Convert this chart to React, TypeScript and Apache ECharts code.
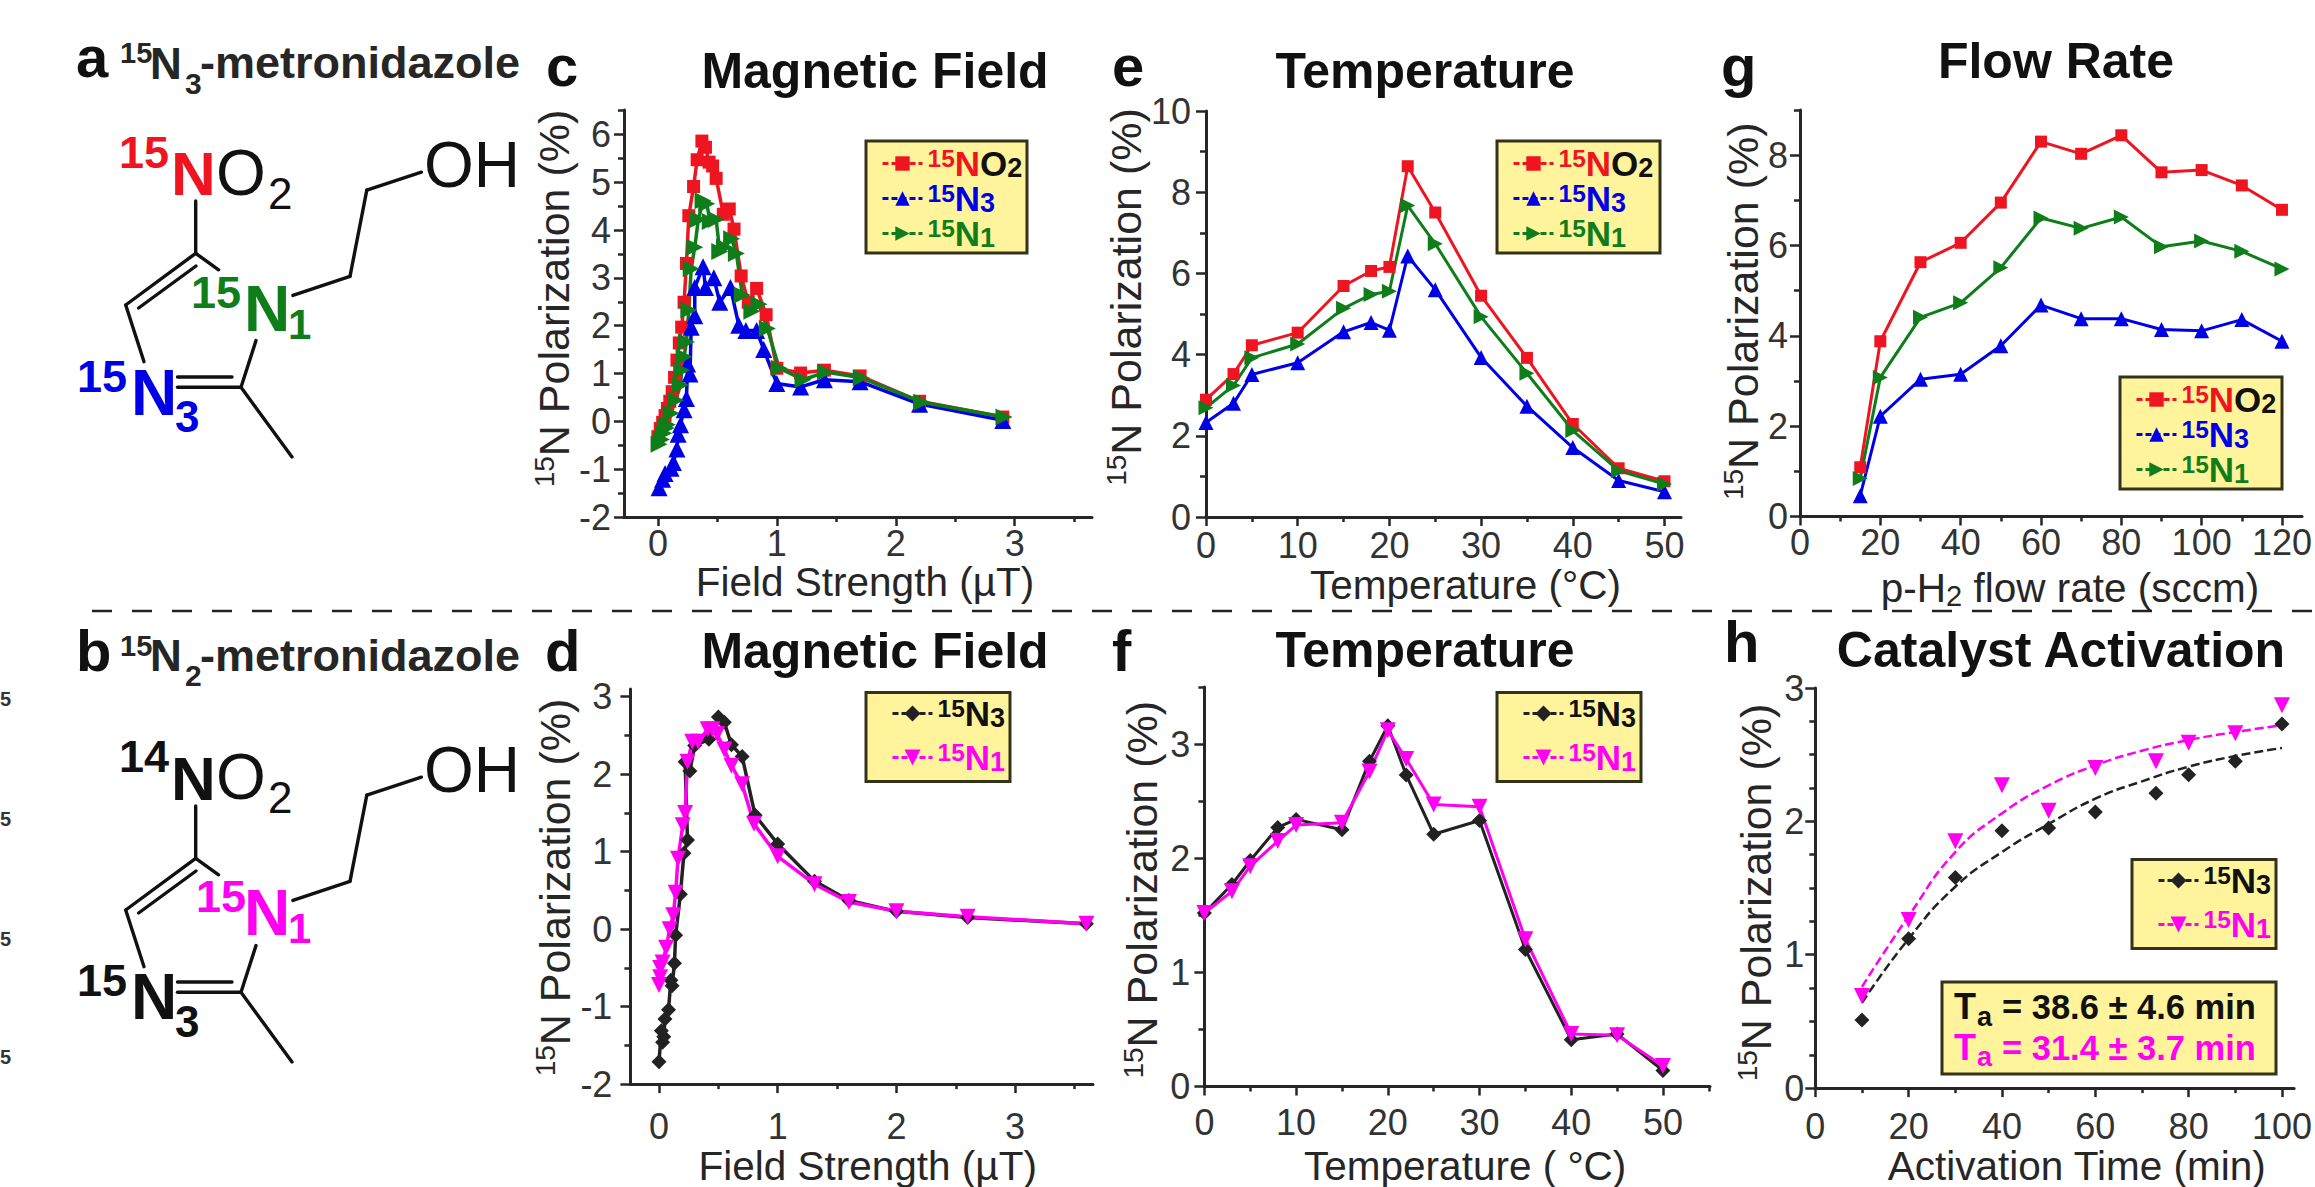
import React, { useEffect, useRef } from "react";
import * as echarts from "echarts";

const FONT = '"Liberation Sans", Arial, sans-serif';
const RED = "#ee1520", BLUE = "#0000e6", GREEN = "#0e7d1a", BLACK = "#222222", MAG = "#ff00f0";
const PALE = "#fff49c", EDGE = "#33331c", DARK = "#262626";

// Panel c
const cNo2X = [0,.02,.04,.06,.08,.1,.12,.14,.16,.18,.2,.22,.24,.26,.3,.33,.37,.4,.43,.46,.49,.55,.6,.64,.7,.76,.83,.91,1,1.2,1.4,1.7,2.2,2.9];
const cNo2Y = [-.32,-.15,-.02,.12,.27,.42,.62,.92,1.28,1.64,1.97,2.49,3.3,4.3,4.91,5.47,5.86,5.73,5.42,5.34,5.08,4.33,4.44,4.02,3.04,2.49,2.78,2.23,1.11,1.01,1.07,.95,.42,.09];
const cN3X = [.01,.04,.06,.11,.13,.16,.17,.19,.22,.24,.25,.27,.28,.31,.31,.38,.4,.47,.52,.61,.68,.74,.83,.89,1,1.2,1.4,1.7,2.2,2.9];
const cN3Y = [-1.39,-1.21,-1.09,-.98,-.86,-.58,-.27,-.07,.24,.48,1.2,.99,1.97,2.21,2.8,3.23,2.8,3,2.49,2.8,2.01,1.9,1.9,1.5,.79,.72,.87,.83,.36,.02];
const cN1X = [.01,.03,.05,.07,.08,.11,.15,.19,.2,.22,.24,.26,.28,.31,.34,.38,.41,.44,.49,.52,.56,.62,.66,.71,.79,.85,.92,1.02,1.22,1.41,1.71,2.22,2.91];
const cN1Y = [-.48,-.38,-.25,-.14,-.07,.17,.44,.76,1.07,1.35,1.66,2.33,3.19,3.64,4.22,4.61,4.55,4.18,4.22,3.55,3.64,3.82,3.51,2.64,2.3,2.45,1.94,1.11,.87,1.03,.91,.4,.09];

// Panel e
const eX = [0,3,5,10,15,18,20,22,25,30,35,40,45,50];
const eNo2 = [2.89,3.52,4.23,4.54,5.69,6.06,6.16,8.64,7.5,5.45,3.92,2.29,1.2,.88];
const eN3 = [2.33,2.8,3.51,3.8,4.56,4.79,4.6,6.43,5.6,3.93,2.73,1.71,.9,.62];
const eN1 = [2.69,3.24,3.92,4.26,5.14,5.48,5.56,7.67,6.73,4.93,3.54,2.13,1.14,.81];

// Panel g
const gX = [15,20,30,40,50,60,70,80,90,100,110,120];
const gNo2 = [1.09,3.88,5.63,6.06,6.95,8.3,8.03,8.44,7.62,7.67,7.33,6.79];
const gN3 = [.46,2.22,3.04,3.15,3.78,4.68,4.38,4.38,4.14,4.11,4.36,3.88];
const gN1 = [.84,3.08,4.41,4.73,5.51,6.61,6.38,6.63,5.97,6.1,5.87,5.48];

// Panel d
const dN3X = [0,.02,.03,.04,.05,.08,.1,.11,.13,.14,.18,.21,.24,.22,.26,.3,.42,.5,.55,.61,.7,.81,1,1.31,1.6,2,2.6,3.6];
const dN3Y = [-1.71,-1.31,-1.46,-1.39,-1.16,-1.04,-.66,-.73,-.44,-.08,.45,.98,1.15,2.16,2.04,2.37,2.45,2.74,2.67,2.38,2.23,1.47,1.1,.62,.37,.23,.15,.07];
const dN1X = [0,.01,.01,.03,.06,.09,.12,.14,.16,.2,.22,.24,.28,.33,.41,.45,.49,.55,.61,.7,.8,1,1.31,1.6,2,2.6,3.6];
const dN1Y = [-.72,-.62,-.5,-.43,-.24,0,.18,.47,.91,1.34,1.5,2.16,2.42,2.42,2.58,2.58,2.52,2.32,2.11,1.87,1.36,.94,.58,.35,.23,.16,.07];

// Panel f
const fX = [0,3,5,8,10,15,18,20,22,25,30,35,40,45,50];
const fN3 = [1.52,1.77,1.98,2.27,2.34,2.25,2.85,3.16,2.73,2.21,2.33,1.2,.41,.46,.14];
const fN1 = [1.52,1.71,1.93,2.15,2.29,2.31,2.76,3.12,2.87,2.47,2.45,1.29,.46,.45,.18];

// Panel h
const hX = [10,20,30,40,50,60,73,80,90,100];
const hN3 = [.51,1.12,1.58,1.93,1.95,2.07,2.21,2.35,2.45,2.73];
const hN1 = [.69,1.26,1.85,2.27,2.08,2.4,2.45,2.59,2.66,2.87];
const hFitX = [10,20,30,40,50,60,70,80,90,100];
const hFitN3 = [.64,1.12,1.51,1.77,1.98,2.17,2.3,2.41,2.49,2.55];
const hFitN1 = [.76,1.29,1.77,2.06,2.27,2.42,2.53,2.61,2.67,2.72];

// Tick values
const fieldMajorX = [0,1,2,3];
const fieldMinorX = [.5,1.5,2.5,3.5];
const tempMajorX = [0,10,20,30,40,50];
const tempMinorX = [5,15,25,35,45];
const tempMinorXf = [5,15,25,35,45,55];
const flowMajorX = [0,20,40,60,80,100,120];
const flowMinorX = [10,30,50,70,90,110];
const timeMajorX = [0,20,40,60,80,100];
const timeMinorX = [10,30,50,70,90];
const cMajorY = [-2,-1,0,1,2,3,4,5,6];
const cMinorY = [-1.5,-.5,.5,1.5,2.5,3.5,4.5,5.5,6.5];
const eMajorY = [0,2,4,6,8,10];
const eMinorY = [1,3,5,7,9];
const gMajorY = [0,2,4,6,8];
const gMinorY = [1,3,5,7,9];
const dMajorY = [-2,-1,0,1,2,3];
const dMinorY = [-1.5,-.5,.5,1.5,2.5];
const fMajorY = [0,1,2,3];
const fMinorY = [.5,1.5,2.5,3.5];
const hMajorY = [0,1,2,3];
const hMinorY = [.25,.5,.75,1.25,1.5,1.75,2.25,2.5,2.75];

const yNameText = "{s|15}{n|N Polarization (%)}";
const nameRich = {
  s: { fontSize: 28, fontFamily: FONT, color: DARK, verticalAlign: "top", lineHeight: 46 },
  n: { fontSize: 43, fontFamily: FONT, color: DARK, lineHeight: 46 },
  x: { fontSize: 40.5, fontFamily: FONT, color: DARK, lineHeight: 46 },
  u: { fontSize: 29, fontFamily: FONT, color: DARK, verticalAlign: "bottom", lineHeight: 46 },
};

const zip = (xs: number[], ys: number[]) => xs.map((x, i) => [x, ys[i]]);

const panels = [
  { key: "c", left: 624, top: 110, right: 1092, bottom: 517, xMin: -.285, xMax: 3.65, yMin: -2, yMax: 6.51,
    xMaj: fieldMajorX, xMin2: fieldMinorX, yMaj: cMajorY, yMin2: cMinorY, xName: "{x|Field Strength (µT)}",
    xShift: 7, xGap: 42, yGap: 44, yShift: 15, xMargin: 8, yMargin: 13, title: "Magnetic Field", tx: 875, ty: 46, lw: 3.5 },
  { key: "e", left: 1206, top: 111, right: 1681, bottom: 517, xMin: 0, xMax: 51.8, yMin: 0, yMax: 10,
    xMaj: tempMajorX, xMin2: tempMinorX, yMaj: eMajorY, yMin2: eMinorY, xName: "{x|Temperature (°C)}",
    xShift: 22, xGap: 45, yGap: 38, yShift: 17, xMargin: 10, yMargin: 15, title: "Temperature", tx: 1425, ty: 46, lw: 3 },
  { key: "g", left: 1800, top: 110, right: 2304, bottom: 516.5, xMin: 0, xMax: 125, yMin: 0, yMax: 9,
    xMaj: flowMajorX, xMin2: flowMinorX, yMaj: gMajorY, yMin2: gMinorY, xName: "{x|p-H}{u|2}{x| flow rate (sccm)}",
    xShift: 19, xGap: 48, yGap: 30, yShift: 2, xMargin: 8, yMargin: 12, title: "Flow Rate", tx: 2056, ty: 36, lw: 3 },
  { key: "d", left: 630.4, top: 689, right: 1093, bottom: 1095.3, xMin: -.241, xMax: 3.656, yMin: -2, yMax: 3.1,
    xMaj: fieldMajorX, xMin2: fieldMinorX, yMaj: dMajorY, yMin2: dMinorY, xName: "{x|Field Strength (µT)}",
    xShift: 6, xGap: 54, yGap: 46, yShift: -1, xMargin: 24, yMargin: 18, title: "Magnetic Field", tx: 875, ty: 626, lw: 3.5 },
  { key: "f", left: 1204.4, top: 687, right: 1710, bottom: 1093.4, xMin: 0, xMax: 55.13, yMin: 0, yMax: 3.5,
    xMaj: tempMajorX, xMin2: tempMinorXf, yMaj: fMajorY, yMin2: fMinorY, xName: "{x|Temperature ( °C)}",
    xShift: 8, xGap: 56, yGap: 39, yShift: -3, xMargin: 18, yMargin: 14, title: "Temperature", tx: 1425, ty: 625, lw: 3 },
  { key: "h", left: 1815.3, top: 688, right: 2308.6, bottom: 1095, xMin: 0, xMax: 102.6, yMin: 0, yMax: 3,
    xMaj: timeMajorX, xMin2: timeMinorX, yMaj: hMajorY, yMin2: hMinorY, xName: "{x|Activation Time (min)}",
    xShift: 22, xGap: 52, yGap: 36, yShift: -4.5, xMargin: 20, yMargin: 11, title: "Catalyst Activation", tx: 2061, ty: 625, lw: 3 },
];

const no2 = (name: string, xs: number[], ys: number[], size = 12) => ({ name, data: zip(xs, ys), color: RED, symbol: "rect", size, rotate: 0 });
const n3 = (name: string, xs: number[], ys: number[], size = 15) => ({ name, data: zip(xs, ys), color: BLUE, symbol: "triangle", size, rotate: 0 });
const n1 = (name: string, xs: number[], ys: number[], size = 15) => ({ name, data: zip(xs, ys), color: GREEN, symbol: "triangle", size, rotate: -90 });
const bN3 = (name: string, xs: number[], ys: number[], hide = false) => ({ name, data: zip(xs, ys), color: BLACK, symbol: "diamond", size: 15, rotate: 0, hide });
const mN1 = (name: string, xs: number[], ys: number[], hide = false) => ({ name, data: zip(xs, ys), color: MAG, symbol: "triangle", size: 16, rotate: 180, hide });

const seriesByPanel: any[][] = [
  [no2("c-15NO2", cNo2X, cNo2Y, 13), n3("c-15N3", cN3X, cN3Y, 17), n1("c-15N1", cN1X, cN1Y, 17)],
  [no2("e-15NO2", eX, eNo2), n3("e-15N3", eX, eN3), n1("e-15N1", eX, eN1)],
  [no2("g-15NO2", gX, gNo2), n3("g-15N3", gX, gN3), n1("g-15N1", gX, gN1)],
  [bN3("d-15N3", dN3X, dN3Y), mN1("d-15N1", dN1X, dN1Y)],
  [bN3("f-15N3", fX, fN3), mN1("f-15N1", fX, fN1)],
  [bN3("h-15N3", hX, hN3, true), mN1("h-15N1", hX, hN1, true)],
];

const legendBoxes = [
  { x: 866, y: 141, w: 161, h: 112, lx: 881, ly: 146, gap: 0, ih: 18 },
  { x: 1497, y: 141, w: 163, h: 112, lx: 1512, ly: 146, gap: 0, ih: 18 },
  { x: 2120, y: 377, w: 162, h: 112, lx: 2135, ly: 382, gap: 0, ih: 18 },
  { x: 866, y: 692.5, w: 144, h: 89, lx: 891, ly: 696, gap: 9, ih: 20 },
  { x: 1497, y: 692.5, w: 144, h: 89, lx: 1522, ly: 696, gap: 9, ih: 20 },
  { x: 2132, y: 859.5, w: 144, h: 89, lx: 2157, ly: 863, gap: 9, ih: 20 },
];

const tok = (color: string) => ({
  s: { fontSize: 24.5, fontWeight: "bold", fontFamily: FONT, color, verticalAlign: "top", lineHeight: 35 },
  n: { fontSize: 35, fontWeight: "bold", fontFamily: FONT, color, lineHeight: 35 },
  u: { fontSize: 27, fontWeight: "bold", fontFamily: FONT, color, verticalAlign: "bottom", lineHeight: 35 },
});
const palette: any = { r: RED, k: "#111111", b: BLUE, g: GREEN, m: MAG };
const legendRich: any = {};
Object.keys(palette).forEach(c => {
  const t = tok(palette[c]);
  legendRich[c + "s"] = t.s;
  legendRich[c + "n"] = t.n;
  legendRich[c + "u"] = t.u;
});

const legendLabel = (name: string) => {
  const dark = /^[dfh]-/.test(name);
  if (name.endsWith("15NO2")) return "{rs|15}{rn|N}{kn|O}{ku|2}";
  if (name.endsWith("15N3")) return dark ? "{ks|15}{kn|N}{ku|3}" : "{bs|15}{bn|N}{bu|3}";
  return dark ? "{ms|15}{mn|N}{mu|1}" : "{gs|15}{gn|N}{gu|1}";
};

// Molecule drawing
const bonds = [
  [195.7, 201, 195.7, 253.3], [195.7, 253.3, 125.7, 305], [196, 266, 138.6, 308], [195.7, 253.3, 218.6, 269.8],
  [125.7, 305, 144, 361.7], [177.5, 387.3, 241, 387.3], [177.5, 377, 232, 377], [241, 387.3, 256, 340.6],
  [241, 387.3, 292, 457], [292.9, 295.4, 350, 276.3], [350, 276.3, 366.8, 190.2], [366.8, 190.2, 421.4, 172.2],
];
const stray5Y = [699, 819, 939, 1057];

const txt = (x: number, base: number, text: string, size: number, weight: string, fill: string, align = "left") => ({
  type: "text", x, y: base - 0.3465 * size, silent: true,
  style: { text, fontFamily: FONT, fontSize: size, fontWeight: weight, fill, align, verticalAlign: "middle" },
});

function molecule(dy: number, tdy: number, isB: boolean): any[] {
  const out: any[] = bonds.map(b => ({
    type: "line", silent: true, shape: { x1: b[0], y1: b[1] + dy, x2: b[2], y2: b[3] + dy },
    style: { stroke: "#111", lineWidth: 3.4, lineCap: "round" },
  }));
  const k = "#111";
  out.push(txt(119, 168 + tdy, isB ? "14" : "15", 45, "bold", isB ? k : RED));
  out.push(txt(171, 195 + tdy, "N", 62, "bold", isB ? k : RED));
  out.push(txt(216, 195 + tdy, "O", 64, "normal", k));
  out.push(txt(268, 208.6 + tdy, "2", 44, "normal", k));
  out.push(txt(424, 187.5 + tdy, "OH", 64, "normal", k));
  const c1 = isB ? MAG : GREEN;
  const c3 = isB ? k : BLUE;
  out.push(txt(isB ? 196 : 191, 308 + tdy, "15", 45, "bold", c1));
  out.push(txt(244, 331 + tdy, "N", 64, "bold", c1));
  out.push(txt(288, 338.7 + tdy, "1", 42, "bold", c1));
  out.push(txt(77, 392 + tdy, "15", 45, "bold", c3));
  out.push(txt(131, 415 + tdy, "N", 64, "bold", c3));
  out.push(txt(175, 432 + tdy, "3", 44, "bold", c3));
  return out;
}

const headings: any[] = [
  txt(76, 76.5, "a", 58, "bold", "#111"),
  txt(120, 63, "15", 29, "bold", DARK),
  txt(150, 78.5, "N", 44, "bold", DARK),
  txt(185, 94, "3", 30, "bold", DARK),
  txt(200, 78.5, "-metronidazole", 45, "bold", DARK),
  txt(76, 671, "b", 58, "bold", "#111"),
  txt(120, 656, "15", 29, "bold", DARK),
  txt(150, 671, "N", 44, "bold", DARK),
  txt(185, 686, "2", 30, "bold", DARK),
  txt(200, 671, "-metronidazole", 45, "bold", DARK),
  txt(546, 86, "c", 58, "bold", "#111"),
  txt(1112, 86, "e", 58, "bold", "#111"),
  txt(1721, 86, "g", 58, "bold", "#111"),
  txt(545, 671, "d", 58, "bold", "#111"),
  txt(1112, 671, "f", 58, "bold", "#111"),
  txt(1724, 662, "h", 58, "bold", "#111"),
];

function buildOption() {
  const grid: any[] = [], xAxis: any[] = [], yAxis: any[] = [], title: any[] = [], series: any[] = [], legend: any[] = [];
  const axisLine = { show: true, onZero: false, lineStyle: { color: DARK, width: 3 } };
  const hiddenLine = { show: false, onZero: false };
  const labelStyle = { fontSize: 36, fontFamily: FONT, color: "#333" };

  panels.forEach((p, i) => {
    grid.push({ left: p.left, top: p.top, width: p.right - p.left, height: p.bottom - p.top });
    title.push({ text: p.title, left: p.tx, top: p.ty, textAlign: "center", padding: 0,
      textStyle: { fontSize: 50, fontWeight: "bold", fontFamily: FONT, color: "#111" } });
    const xPad = p.xShift > 0 ? [0, 0, 0, 2 * p.xShift] : [0, -2 * p.xShift, 0, 0];
    const yPad = p.yShift > 0 ? [0, 0, 0, 2 * p.yShift] : [0, -2 * p.yShift, 0, 0];
    xAxis.push({
      type: "value", gridIndex: i, min: p.xMin, max: p.xMax, position: "bottom", splitLine: { show: false },
      axisLine, axisTick: { show: true, customValues: p.xMaj, length: 9, lineStyle: { color: DARK, width: 2.5 } },
      axisLabel: { show: true, customValues: p.xMaj, margin: p.xMargin, ...labelStyle },
      name: p.xName, nameLocation: "middle", nameGap: p.xGap,
      nameTextStyle: { rich: nameRich, padding: xPad, fontSize: 40.5, fontFamily: FONT, color: DARK },
    });
    xAxis.push({
      type: "value", gridIndex: i, min: p.xMin, max: p.xMax, position: "bottom", splitLine: { show: false },
      axisLine: hiddenLine, axisLabel: { show: false },
      axisTick: { show: true, customValues: p.xMin2, length: 5, lineStyle: { color: DARK, width: 2.5 } },
    });
    yAxis.push({
      type: "value", gridIndex: i, min: p.yMin, max: p.yMax, position: "left", splitLine: { show: false },
      axisLine, axisTick: { show: true, customValues: p.yMaj, length: 10, lineStyle: { color: DARK, width: 2.5 } },
      axisLabel: { show: true, customValues: p.yMaj, margin: p.yMargin, ...labelStyle },
      name: yNameText, nameLocation: "middle", nameGap: p.yGap,
      nameTextStyle: { rich: nameRich, padding: yPad, fontSize: 43, fontFamily: FONT, color: DARK },
    });
    yAxis.push({
      type: "value", gridIndex: i, min: p.yMin, max: p.yMax, position: "left", splitLine: { show: false },
      axisLine: hiddenLine, axisLabel: { show: false },
      axisTick: { show: true, customValues: p.yMin2, length: 6, lineStyle: { color: DARK, width: 2.5 } },
    });
    seriesByPanel[i].forEach((s: any) => {
      series.push({
        type: "line", name: s.name, xAxisIndex: 2 * i, yAxisIndex: 2 * i, data: s.data, clip: false, silent: true,
        symbol: s.symbol, symbolSize: s.size, symbolRotate: s.rotate, showSymbol: true, showAllSymbol: true,
        lineStyle: { color: s.color, width: p.lw, opacity: s.hide ? 0 : 1 }, itemStyle: { color: s.color },
      });
    });
    const b = legendBoxes[i];
    legend.push({
      orient: "vertical", left: b.lx, top: b.ly, padding: 0, itemWidth: 40, itemHeight: b.ih, itemGap: b.gap,
      selectedMode: false, align: "left", data: seriesByPanel[i].map((s: any) => s.name), formatter: legendLabel,
      textStyle: { rich: legendRich, fontFamily: FONT },
      lineStyle: { type: [6, 3], width: 3, opacity: 1 },
    });
  });

  [[hFitX, hFitN3, BLACK], [hFitX, hFitN1, MAG]].forEach((f: any, k) => {
    series.push({
      type: "line", name: k ? "fit 15N1" : "fit 15N3", xAxisIndex: 10, yAxisIndex: 10, data: zip(f[0], f[1]), smooth: true,
      symbol: "none", silent: true, z: 1, lineStyle: { color: f[2], width: 2.5, type: [9, 4] },
    });
  });

  const g: any[] = [];
  g.push({ type: "line", silent: true, shape: { x1: 92, y1: 611, x2: 2315, y2: 611 },
    style: { stroke: "#222", lineWidth: 2.5, lineDash: [20, 20] } });
  stray5Y.forEach(y => g.push(txt(0, y + 7, "5", 20, "bold", "#333")));
  g.push(...molecule(0, 0, false), ...molecule(605, 604.5, true), ...headings);
  legendBoxes.forEach(b => g.push({ type: "rect", silent: true, shape: { x: b.x, y: b.y, width: b.w, height: b.h },
    style: { fill: PALE, stroke: EDGE, lineWidth: 3 } }));
  g.push({ type: "rect", silent: true, shape: { x: 1942, y: 982, width: 334, height: 92 }, style: { fill: PALE, stroke: EDGE, lineWidth: 3 } });
  g.push(txt(1954, 1019, "T", 36, "bold", "#111"), txt(1977, 1026, "a", 27, "bold", "#111"),
    txt(2002, 1019, "= 38.6 ± 4.6 min", 34.5, "bold", "#111"));
  g.push(txt(1954, 1059.5, "T", 36, "bold", MAG), txt(1977, 1066.5, "a", 27, "bold", MAG),
    txt(2002, 1059.5, "= 31.4 ± 3.7 min", 34.5, "bold", MAG));

  return { animation: false, backgroundColor: "#ffffff", grid, xAxis, yAxis, title, legend, series, graphic: { elements: g } };
}

export default function App() {
  const ref = useRef<HTMLDivElement>(null);
  useEffect(() => {
    document.body.style.margin = "0";
    const chart = echarts.init(ref.current!, undefined, { renderer: "svg" });
    chart.setOption(buildOption() as any);
    return () => chart.dispose();
  }, []);
  return <div ref={ref} style={{ width: 2315, height: 1187, position: "absolute", left: 0, top: 0 }} />;
}
